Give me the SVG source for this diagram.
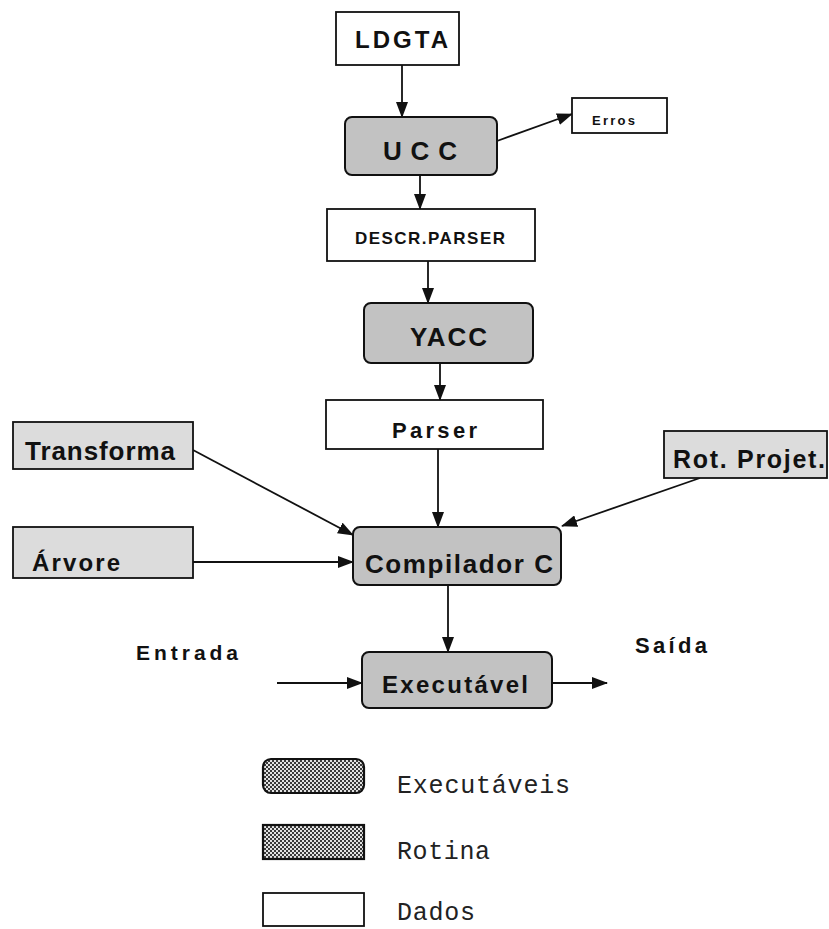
<svg xmlns="http://www.w3.org/2000/svg" width="829" height="929" viewBox="0 0 829 929">
  <style>
    .lbl { font-family: "Liberation Sans", Arial, sans-serif; font-weight: bold; fill: #111; }
    .mono { font-family: "Liberation Mono", "Courier New", monospace; fill: #222; font-size: 25px; }
    .data { fill: #fff; stroke: #111; stroke-width: 1.8; }
    .exec { fill: #c2c2c2; stroke: #111; stroke-width: 2; }
    .rot  { fill: #dcdcdc; stroke: #111; stroke-width: 1.8; }
    .legexec, .legrot { fill: url(#checker); stroke: #111; stroke-width: 2.2; }
    .edge { stroke: #111; stroke-width: 1.8; fill: none; marker-end: url(#arrow); }
  </style>
  <defs>
    <marker id="arrow" markerUnits="userSpaceOnUse" markerWidth="16" markerHeight="12" refX="15" refY="6" orient="auto">
      <path d="M0,0 L16,6 L0,12 Z" fill="#111"/>
    </marker>
    <pattern id="checker" width="4" height="4" patternUnits="userSpaceOnUse">
      <rect width="4" height="4" fill="#e2e2e2"/>
      <rect width="2" height="2" fill="#3a3a3a"/>
      <rect x="2" y="2" width="2" height="2" fill="#3a3a3a"/>
    </pattern>
  </defs>
  <rect width="829" height="929" fill="#fff"/>

  <!-- connectors -->
  <g id="edges">
    <line class="edge" x1="402" y1="65" x2="402" y2="117"/>
    <line class="edge" x1="497" y1="141" x2="572" y2="114"/>
    <line class="edge" x1="420" y1="176" x2="420" y2="209"/>
    <line class="edge" x1="428" y1="261" x2="428" y2="303"/>
    <line class="edge" x1="440" y1="363" x2="440" y2="400"/>
    <line class="edge" x1="438" y1="449" x2="438" y2="527"/>
    <line class="edge" x1="193" y1="450" x2="353" y2="535"/>
    <line class="edge" x1="193" y1="562" x2="353" y2="562"/>
    <line class="edge" x1="700" y1="478" x2="562" y2="526"/>
    <line class="edge" x1="448" y1="585" x2="448" y2="652"/>
    <line class="edge" x1="277" y1="683" x2="362" y2="683"/>
    <line class="edge" x1="552" y1="683" x2="607" y2="683"/>
  </g>

  <!-- nodes -->
  <g id="ldgta">
    <rect class="data" x="336" y="12" width="123" height="53"/>
    <text class="lbl" x="355" y="48" font-size="24" textLength="93">LDGTA</text>
  </g>
  <g id="ucc">
    <rect class="exec" x="345" y="117" width="152" height="58" rx="7"/>
    <text class="lbl" x="383" y="160" font-size="26" textLength="74">U C C</text>
  </g>
  <g id="erros">
    <rect class="data" x="572" y="98" width="95" height="35"/>
    <text class="lbl" x="592" y="125" font-size="13" textLength="43">Erros</text>
  </g>
  <g id="descr-parser">
    <rect class="data" x="327" y="209" width="208" height="52"/>
    <text class="lbl" x="355" y="244" font-size="17" textLength="150">DESCR.PARSER</text>
  </g>
  <g id="yacc">
    <rect class="exec" x="364" y="303" width="169" height="60" rx="7"/>
    <text class="lbl" x="410" y="346" font-size="26" textLength="77">YACC</text>
  </g>
  <g id="parser">
    <rect class="data" x="326" y="400" width="217" height="49"/>
    <text class="lbl" x="392" y="438" font-size="22" textLength="85">Parser</text>
  </g>
  <g id="transforma">
    <rect class="rot" x="13" y="422" width="180" height="47"/>
    <text class="lbl" x="25" y="460" font-size="26" textLength="150">Transforma</text>
  </g>
  <g id="arvore">
    <rect class="rot" x="13" y="527" width="180" height="51"/>
    <text class="lbl" x="32" y="571" font-size="24" textLength="88">Árvore</text>
  </g>
  <g id="rot-projet">
    <rect class="rot" x="664" y="431" width="163" height="47"/>
    <text class="lbl" x="673" y="468" font-size="25" textLength="152">Rot. Projet.</text>
  </g>
  <g id="compilador">
    <rect class="exec" x="353" y="527" width="208" height="58" rx="7"/>
    <text class="lbl" x="365" y="573" font-size="26" textLength="188">Compilador C</text>
  </g>
  <g id="executavel">
    <rect class="exec" x="362" y="652" width="190" height="56" rx="7"/>
    <text class="lbl" x="382" y="693" font-size="24" textLength="146">Executável</text>
  </g>

  <!-- input / output labels -->
  <text class="lbl" x="136" y="660" font-size="21" textLength="102">Entrada</text>
  <text class="lbl" x="635" y="653" font-size="22" textLength="72">Saída</text>

  <!-- legend -->
  <g id="legend">
    <rect class="legexec" x="263" y="759" width="101" height="34" rx="8"/>
    <text class="mono" x="397" y="793" textLength="173">Executáveis</text>
    <rect class="legrot" x="263" y="825" width="101" height="34"/>
    <text class="mono" x="397" y="859" textLength="93">Rotina</text>
    <rect class="data" x="263" y="893" width="101" height="33" stroke-width="2.2"/>
    <text class="mono" x="397" y="920" font-size="23" textLength="78">Dados</text>
  </g>
</svg>
